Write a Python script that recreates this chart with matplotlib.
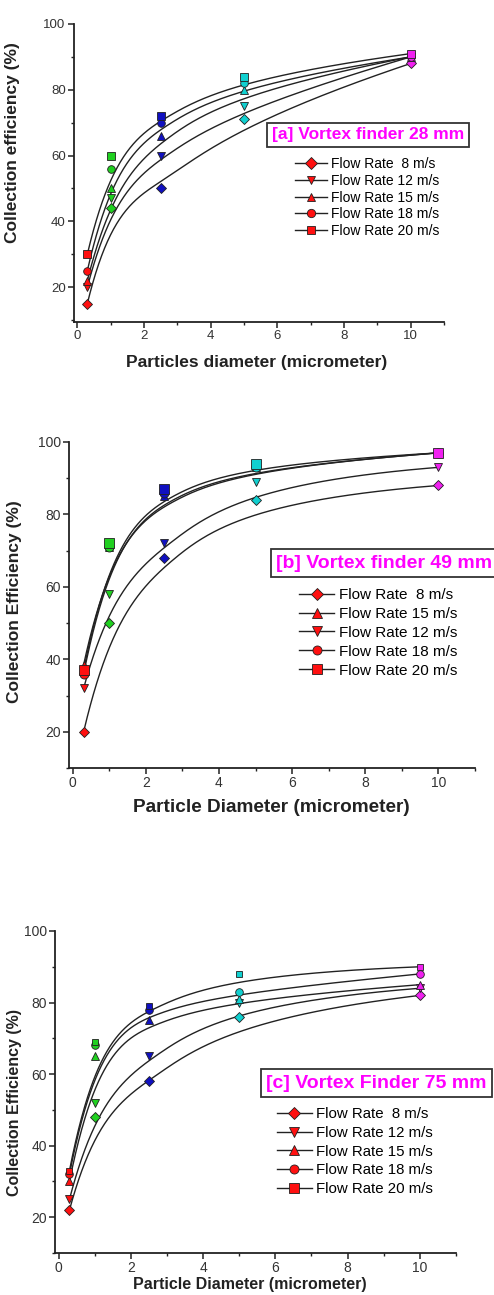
import numpy as np
import matplotlib
matplotlib.use("Agg")
import matplotlib.pyplot as plt
from matplotlib.ticker import MultipleLocator
from matplotlib.lines import Line2D

plt.rcParams['font.family'] = ['Liberation Sans', 'DejaVu Sans']

# particle diameters (micrometer)
diam = [0.3, 1.0, 2.5, 5.0, 10.0]
# colour of the point depends on the diameter
pt_colors = ['#ff1010', '#20d020', '#1010c0', '#10d0d0', '#f020f0']

# panel a: vortex finder 28 mm
a_8 = [15, 44, 50, 71, 88]
a_12 = [20, 47, 60, 75, 90]
a_15 = [22, 50, 66, 80, 90]
a_18 = [25, 56, 70, 82, 90]
a_20 = [30, 60, 72, 84, 91]

# panel b: vortex finder 49 mm
b_8 = [20, 50, 68, 84, 88]
b_15 = [38.5, 71, 85, 93, 97]
b_12 = [32, 58, 72, 89, 93]
b_18 = [36, 71, 86, 93, 97]
b_20 = [37, 72, 87, 94, 97]

# panel c: vortex finder 75 mm
c_8 = [22, 48, 58, 76, 82]
c_12 = [25, 52, 65, 80, 84]
c_15 = [30, 65, 75, 81, 85]
c_18 = [32, 68, 78, 83, 88]
c_20 = [33, 69, 79, 88, 90]


def bspline(xs, ys, n=300, k=3):
    # clamped B-spline, data points used as control points (Origin "B-Spline" line)
    P = np.column_stack([xs, ys]).astype(float)
    m = len(P)
    t = np.concatenate([np.zeros(k), np.linspace(0, 1, m - k + 1), np.ones(k)])
    out = []
    for u in np.linspace(0, 1, n):
        if u >= 1:
            out.append(P[-1])
            continue
        s = np.searchsorted(t, u, side='right') - 1
        d = [P[j + s - k].copy() for j in range(k + 1)]
        for r in range(1, k + 1):
            for j in range(k, r - 1, -1):
                i = j + s - k
                den = t[i + k + 1 - r] - t[i]
                al = 0 if den == 0 else (u - t[i]) / den
                d[j] = (1 - al) * d[j - 1] + al * d[j]
        out.append(d[k])
    out = np.array(out)
    return out[:, 0], out[:, 1]


W, H = 494.0, 1295.0
fig = plt.figure(figsize=(4.94, 12.95), dpi=100)


def px(x, y):
    return x / W, 1 - y / H


def panel(box, series, labels, title, title_pos, title_fs, leg_pos, leg_fs, leg_gap,
          xlabel, xl_pos, xl_fs, ylabel, yl_pos, yl_fs, tick_fs, ms, ylim):
    l, t, r, b = box
    ax = fig.add_axes([l / W, 1 - b / H, (r - l) / W, (b - t) / H])
    for vals, mk, size in series:
        cx, cy = bspline(diam, vals)
        ax.plot(cx, cy, color='#222222', lw=1.0, zorder=2)
    for vals, mk, size in series:
        for xv, yv, c in zip(diam, vals, pt_colors):
            ax.plot(xv, yv, marker=mk, ms=size, mfc=c, mec='#202020', mew=0.6,
                    ls='none', zorder=3)
    ax.set_xlim(-0.1, 11)
    ax.set_ylim(*ylim)
    ax.xaxis.set_major_locator(MultipleLocator(2))
    ax.xaxis.set_minor_locator(MultipleLocator(1))
    ax.yaxis.set_major_locator(MultipleLocator(20))
    ax.yaxis.set_minor_locator(MultipleLocator(10))
    for s in ['top', 'right']:
        ax.spines[s].set_visible(False)
    for s in ['left', 'bottom']:
        ax.spines[s].set_linewidth(1.3)
        ax.spines[s].set_color('#222222')
    ax.tick_params(which='major', direction='out', length=4, width=1.1,
                   labelsize=tick_fs, colors='#222222', labelcolor='#333333', pad=2)
    ax.tick_params(which='minor', direction='out', length=2.5, width=1.0, colors='#222222')
    fig.text(*px(*xl_pos), xlabel, fontsize=xl_fs, fontweight='bold', color='#222222',
             ha='center', va='center')
    fig.text(*px(*yl_pos), ylabel, fontsize=yl_fs, fontweight='bold', color='#222222',
             ha='center', va='center', rotation=90)
    fig.text(*px(*title_pos), title, color='#ff00ff', fontsize=title_fs,
             fontweight='bold', ha='left', va='center', zorder=5,
             bbox=dict(boxstyle='square,pad=0.28', fc='white', ec='#333333', lw=1.3))
    handles = [Line2D([], [], color='#222222', lw=1.0, marker=mk, ms=ms,
                      mfc='#ff1010', mec='#202020', mew=0.6) for _, mk, _ in series]
    ax.legend(handles, labels, loc='upper left', bbox_to_anchor=px(*leg_pos),
              bbox_transform=fig.transFigure, frameon=False,
              fontsize=leg_fs, handlelength=2.3, handletextpad=0.3,
              labelspacing=leg_gap, borderaxespad=0, borderpad=0)
    return ax


panel((74, 24, 444, 322),
      [(a_8, 'D', 5), (a_12, 'v', 5.5), (a_15, '^', 5.5), (a_18, 'o', 5.5), (a_20, 's', 5.2)],
      ['Flow Rate  8 m/s', 'Flow Rate 12 m/s', 'Flow Rate 15 m/s',
       'Flow Rate 18 m/s', 'Flow Rate 20 m/s'],
      '[a] Vortex finder 28 mm', (272, 135), 12.5,
      (295, 157), 10, 0.2,
      'Particles diameter (micrometer)', (257, 362), 12.5,
      'Collection efficiency (%)', (13, 143), 12.5, 9.5, 6, (9.4, 100))

panel((69, 442, 475, 768),
      [(b_8, 'D', 5.5), (b_15, '^', 6), (b_12, 'v', 5.5), (b_18, 'o', 6.5), (b_20, 's', 7)],
      ['Flow Rate  8 m/s', 'Flow Rate 15 m/s', 'Flow Rate 12 m/s',
       'Flow Rate 18 m/s', 'Flow Rate 20 m/s'],
      '[b] Vortex finder 49 mm', (276, 563), 14,
      (299, 588), 11, 0.32,
      'Particle Diameter (micrometer)', (271, 807), 13.7,
      'Collection Efficiency (%)', (15, 602), 12.5, 10, 6.5, (10, 100))

panel((55, 931, 456, 1253),
      [(c_8, 'D', 5), (c_12, 'v', 5.5), (c_15, '^', 5.5), (c_18, 'o', 5.5), (c_20, 's', 5)],
      ['Flow Rate  8 m/s', 'Flow Rate 12 m/s', 'Flow Rate 15 m/s',
       'Flow Rate 18 m/s', 'Flow Rate 20 m/s'],
      '[c] Vortex Finder 75 mm', (266, 1083), 14,
      (277, 1107), 10.8, 0.32,
      'Particle Diameter (micrometer)', (250, 1285), 11.5,
      'Collection Efficiency (%)', (15, 1103), 11.5, 10, 6.5, (10, 100))

fig.savefig('out.png', dpi=100, facecolor='white')
